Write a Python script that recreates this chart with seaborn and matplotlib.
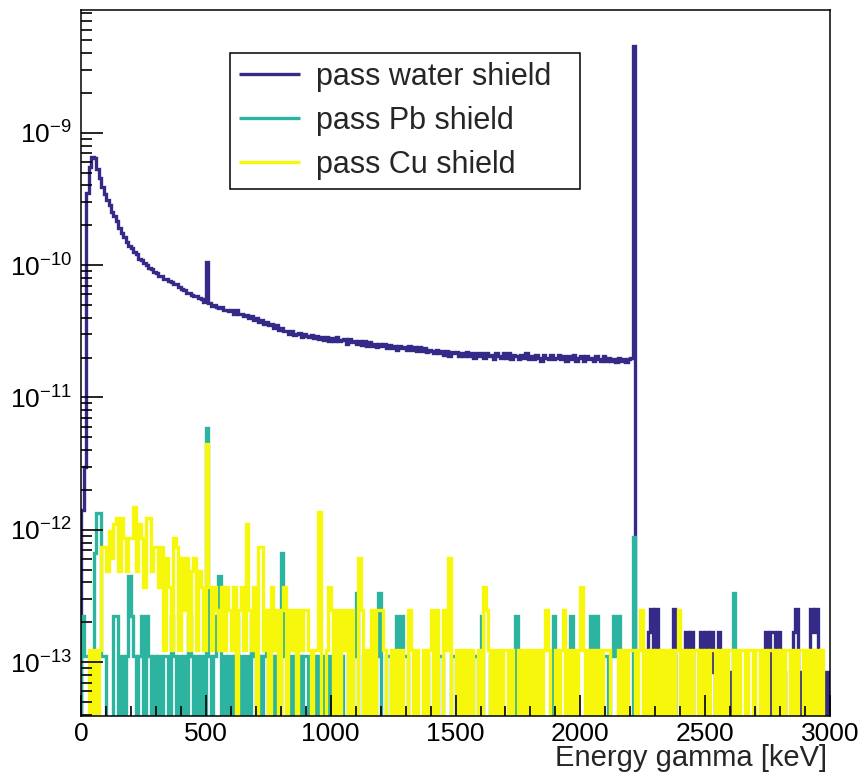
import numpy as np
import pandas as pd
import matplotlib
matplotlib.use("Agg")
import matplotlib.pyplot as plt
import seaborn as sns
from matplotlib.ticker import FixedLocator, MultipleLocator, NullFormatter

sns.set_theme(style="ticks")
plt.rcParams['font.family'] = ['Liberation Sans', 'DejaVu Sans']

# histogram binning: 300 bins of 10 keV
bin_width = 10
n_bins = 300

# pass water shield, bins 0-221, in units of 1e-12
water_main = [
    1.4, 3.0, 350, 550, 660, 640, 530, 455, 392, 345,
    312, 285, 252, 236, 214, 190, 176, 162, 150, 139,
    134, 125, 121, 112, 109, 103, 100, 95, 93, 88,
    87, 83, 82, 79, 78, 76, 75, 72, 72, 68,
    66, 65, 62, 61, 59, 58, 58, 56, 55, 53,
    105, 52, 49, 50, 48, 47, 48, 46, 46, 45,
    46, 43, 45.5, 42.5, 43, 41.5, 42, 39.5, 41, 38.5,
    40, 37, 38.5, 36, 37, 35.5, 36, 33.5, 35, 32.5,
    33.5, 31.5, 32, 30, 31.5, 29.5, 30, 30.5, 28.5, 30,
    29, 28.5, 29.5, 28, 29, 27.5, 28.5, 27, 28.5, 26.5,
    28, 26.5, 28.5, 26.5, 27, 27.5, 25.5, 27.5, 26, 26.5,
    25.5, 26.5, 25, 26.5, 24.5, 26, 24.5, 25.5, 24, 25.5,
    24.5, 25.5, 23.5, 25, 23.5, 24.5, 23, 24.5, 23.5, 24,
    23, 24.5, 23, 24, 22.5, 24, 22.5, 23.5, 22, 23,
    22.5, 21.5, 23, 21.5, 22.5, 21, 22.5, 20.5, 22, 21.5,
    22, 20.5, 21.5, 20.5, 22, 20.5, 21.5, 20, 21.5, 20.5,
    21.5, 20, 21.5, 20.5, 21, 19.5, 21.5, 20.5, 20, 21.5,
    20, 21.5, 19.5, 21, 20.5, 19.5, 21, 20, 21.5, 19.5,
    20.5, 19.5, 21, 20, 19, 21, 20, 19.5, 21, 19.5,
    20, 21, 19.5, 20.5, 19, 20.5, 19.5, 21, 19, 20,
    20.5, 19, 20.5, 19.5, 20, 19, 20.5, 19.5, 19, 20.5,
    19, 20, 19, 19.5, 18.5, 20, 19, 19.5, 18.5, 19.5,
    20, 4500,
]
# pass water shield, bins 222-299, entries
water_tail = [
    0, 0, 0, 0, 0, 2, 3, 1, 3, 0,
    0, 0, 0, 0, 0, 3, 0, 0, 0, 0,
    2, 0, 2, 0, 0, 0, 2, 1, 2, 1,
    2, 1, 0, 2, 1, 0, 0, 1, 0, 0,
    1, 0, 0, 0, 0, 0, 0, 0, 0, 0,
    0, 0, 2, 0, 2, 2, 0, 2, 0, 1,
    0, 0, 0, 2, 3, 0, 1, 0, 0, 1,
    3, 2, 3, 0, 0, 1, 0, 1,
]
water_tail_unit = 8.4e-14

# pass Pb shield, entries per bin
pb_counts = [
    2, 1, 1, 1, 0, 6, 12, 12, 1, 1,
    0, 0, 0, 2, 2, 0, 1, 0, 1, 4,
    2, 1, 0, 1, 2, 0, 2, 1, 0, 1,
    0, 1, 0, 1, 1, 0, 2, 1, 0, 1,
    0, 1, 0, 2, 1, 0, 1, 0, 1, 0,
    53, 1, 0, 1, 2, 4, 0, 1, 0, 1,
    0, 1, 2, 0, 1, 0, 1, 0, 2, 1,
    0, 1, 0, 1, 2, 0, 1, 0, 1, 0,
    6, 1, 2, 0, 1, 0, 1, 1, 0, 1,
    1, 0, 1, 1, 0, 1, 0, 1, 0, 1,
    0, 1, 0, 0, 1, 0, 0, 1, 0, 1,
    3, 0, 0, 1, 0, 1, 0, 0, 1, 3,
    0, 0, 1, 1, 0, 0, 2, 1, 2, 1,
    1, 0, 0, 0, 0, 0, 0, 0, 1, 0,
    0, 0, 0, 1, 1, 0, 0, 0, 1, 1,
    0, 0, 0, 0, 1, 0, 0, 1, 1, 0,
    2, 0, 0, 0, 1, 1, 0, 0, 0, 0,
    0, 0, 0, 0, 2, 0, 0, 0, 0, 0,
    0, 0, 0, 0, 0, 0, 0, 0, 0, 2,
    0, 0, 0, 0, 0, 0, 2, 0, 0, 0,
    0, 0, 0, 0, 2, 1, 2, 0, 1, 1,
    1, 0, 1, 2, 1, 2, 0, 0, 0, 0,
    0, 8, 0, 0, 0, 0, 0, 0, 0, 1,
    0, 0, 0, 1, 0, 0, 0, 1, 0, 0,
    0, 0, 0, 0, 0, 0, 0, 0, 0, 0,
    0, 0, 0, 0, 0, 0, 0, 0, 0, 0,
    0, 3, 0, 0, 0, 0, 0, 0, 0, 0,
    0, 0, 0, 0, 0, 0, 0, 0, 0, 0,
    0, 0, 0, 0, 0, 0, 0, 0, 0, 0,
    0, 0, 0, 0, 1, 0, 0, 0, 0, 0,
]
pb_unit = 1.11e-13

# pass Cu shield, entries per bin
cu_counts = [
    0, 0, 0, 1, 0, 1, 0, 1, 6, 6,
    4, 8, 5, 9, 10, 4, 10, 7, 4, 7,
    7, 12, 4, 9, 7, 3, 10, 10, 4, 6,
    6, 3, 6, 1, 5, 3, 1, 7, 6, 1,
    5, 2, 5, 1, 4, 5, 1, 4, 3, 1,
    36, 3, 1, 3, 2, 1, 3, 1, 3, 2,
    1, 3, 0, 2, 3, 1, 9, 2, 1, 3,
    0, 6, 6, 1, 2, 0, 3, 1, 2, 0,
    2, 3, 0, 2, 1, 2, 0, 2, 1, 2,
    2, 1, 0, 1, 1, 11, 0, 0, 1, 3,
    2, 0, 2, 0, 2, 1, 2, 0, 2, 0,
    0, 5, 2, 0, 1, 0, 2, 0, 2, 2,
    2, 1, 0, 0, 1, 0, 1, 0, 1, 0,
    0, 2, 1, 0, 1, 0, 0, 1, 0, 1,
    2, 0, 2, 0, 0, 2, 1, 5, 0, 0,
    1, 0, 1, 0, 1, 0, 1, 0, 0, 1,
    0, 3, 2, 1, 0, 1, 0, 1, 0, 1,
    1, 0, 1, 0, 0, 1, 0, 1, 0, 1,
    0, 1, 0, 1, 0, 1, 2, 1, 0, 0,
    1, 0, 1, 2, 0, 1, 0, 1, 0, 1,
    3, 1, 0, 1, 0, 1, 0, 1, 0, 1,
    1, 1, 0, 0, 0, 1, 0, 1, 0, 1,
    1, 1, 0, 1, 2, 0, 1, 0, 1, 0,
    1, 0, 1, 0, 1, 0, 1, 0, 1, 2,
    0, 1, 0, 1, 0, 1, 1, 0, 1, 0,
    1, 0, 1, 1, 0, 1, 0, 1, 0, 1,
    1, 0, 1, 0, 1, 1, 0, 1, 1, 0,
    1, 1, 0, 1, 0, 1, 1, 0, 1, 0,
    1, 0, 1, 1, 0, 1, 0, 1, 1, 0,
    1, 0, 1, 0, 1, 0, 1, 0, 0, 0,
]
cu_unit = 1.23e-13

labels = ["pass water shield", "pass Pb shield", "pass Cu shield"]
colors = ["#352a87", "#2db4a0", "#f7f70c"]

edges = np.arange(n_bins + 1) * bin_width
floor = 1e-16  # empty bins drawn down past the axis bottom

water = np.concatenate([np.array(water_main) * 1e-12,
                        np.array(water_tail) * water_tail_unit])
pb = np.array(pb_counts) * pb_unit
cu = np.array(cu_counts) * cu_unit


def step_frame(values):
    v = np.where(values > 0, values, floor)
    x = np.concatenate([[edges[0]], edges])
    y = np.concatenate([[floor], v, [floor]])
    return pd.DataFrame({"E": x, "rate": y})


fig = plt.figure(figsize=(8.64, 7.79), dpi=100)
ax = fig.add_axes([0.0938, 0.0815, 0.8669, 0.9052])

for vals, lab, col in zip([water, pb, cu], labels, colors):
    df = step_frame(vals)
    sns.lineplot(data=df, x="E", y="rate", ax=ax, estimator=None, sort=False,
                 drawstyle="steps-post", color=col, lw=2.4, label=lab,
                 solid_joinstyle="miter", solid_capstyle="butt")

ax.set_yscale("log")
ax.set_xlim(0, 3000)
ax.set_ylim(3.95e-14, 8.4e-9)

decades = [1e-13, 1e-12, 1e-11, 1e-10, 1e-9]
minor_y = [m * d for d in [1e-14] + decades for m in range(2, 10)]
minor_y = [v for v in minor_y if 3.95e-14 < v < 8.4e-9]

ax.xaxis.set_major_locator(MultipleLocator(500))
ax.xaxis.set_minor_locator(MultipleLocator(100))
ax.yaxis.set_major_locator(FixedLocator(decades))
ax.yaxis.set_minor_locator(FixedLocator(minor_y))
ax.yaxis.set_minor_formatter(NullFormatter())

ax.tick_params(axis="both", which="both", direction="in", top=False, right=False,
               colors="black", width=1.2, labelsize=19)
ax.tick_params(axis="y", which="major", length=16, pad=6.5)
ax.tick_params(axis="y", which="minor", length=8)
ax.tick_params(axis="x", which="major", length=15, pad=4.5)
ax.tick_params(axis="x", which="minor", length=7.5)
ax.set_axisbelow(False)

for sp in ax.spines.values():
    sp.set_visible(True)
    sp.set_color("black")
    sp.set_linewidth(1.1)
    sp.set_zorder(3)

ax.set_ylabel("")
ax.set_xlabel("Energy gamma [keV]", fontsize=21, loc="right")
ax.xaxis.set_label_coords(0.996, -0.040)

leg = ax.legend(loc="upper left", bbox_to_anchor=(0.199, 0.7, 0.4673, 0.2397),
                mode="expand", borderaxespad=0, fontsize=22, frameon=True,
                fancybox=False, shadow=False, framealpha=1, edgecolor="black",
                handlelength=2.0, handletextpad=0.5, labelspacing=0.45,
                borderpad=0.3)
leg.get_frame().set_linewidth(1.1)
for line in leg.get_lines():
    line.set_linewidth(2.4)

fig.savefig("out.png", dpi=100)
